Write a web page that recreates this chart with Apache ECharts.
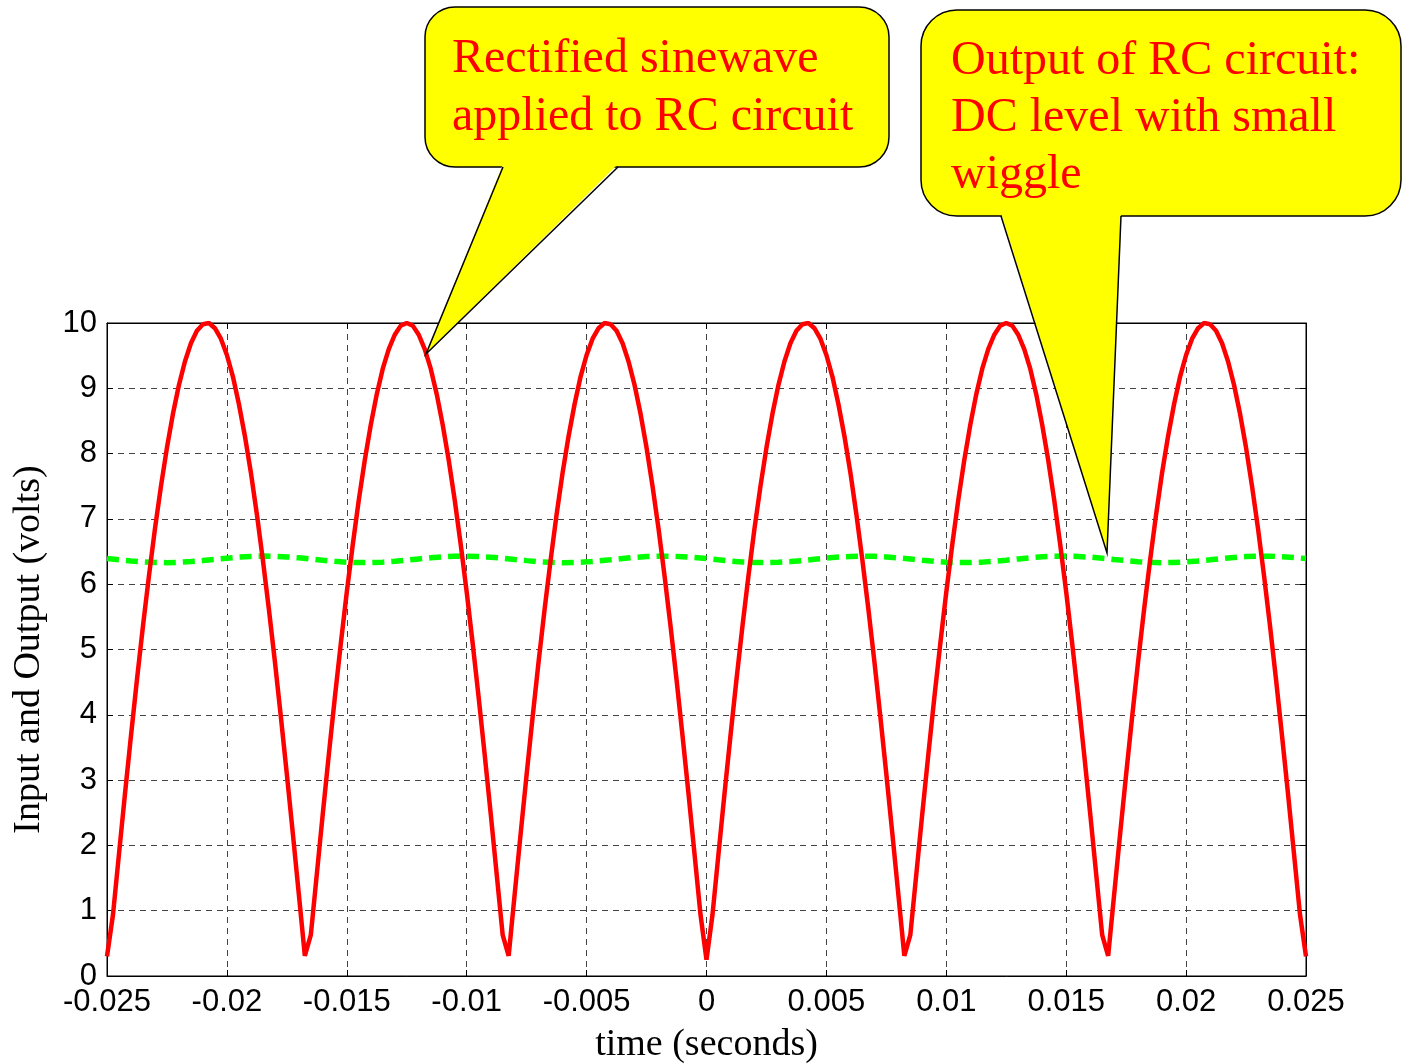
<!DOCTYPE html>
<html>
<head>
<meta charset="utf-8">
<script src="https://cdn.jsdelivr.net/npm/echarts@6/dist/echarts.min.js"></script>
<style>
html,body{margin:0;padding:0;background:#fff;}
#chart{width:1402px;height:1064px;}
</style>
</head>
<body>
<div id="chart"></div>
<script>
// time samples for the rectified input (seconds)
const tInput = [
-0.025,-0.02475,-0.0245,-0.02425,-0.024,-0.02375,-0.0235,-0.02325,-0.023,-0.02275,
-0.0225,-0.02225,-0.022,-0.02175,-0.0215,-0.02125,-0.021,-0.02075,-0.0205,-0.02025,
-0.02,-0.01975,-0.0195,-0.01925,-0.019,-0.01875,-0.0185,-0.01825,-0.018,-0.01775,
-0.0175,-0.01725,-0.017,-0.01675,-0.0165,-0.01625,-0.016,-0.01575,-0.0155,-0.01525,
-0.015,-0.01475,-0.0145,-0.01425,-0.014,-0.01375,-0.0135,-0.01325,-0.013,-0.01275,
-0.0125,-0.01225,-0.012,-0.01175,-0.0115,-0.01125,-0.011,-0.01075,-0.0105,-0.01025,
-0.01,-0.00975,-0.0095,-0.00925,-0.009,-0.00875,-0.0085,-0.00825,-0.008,-0.00775,
-0.0075,-0.00725,-0.007,-0.00675,-0.0065,-0.00625,-0.006,-0.00575,-0.0055,-0.00525,
-0.005,-0.00475,-0.0045,-0.00425,-0.004,-0.00375,-0.0035,-0.00325,-0.003,-0.00275,
-0.0025,-0.00225,-0.002,-0.00175,-0.0015,-0.00125,-0.001,-0.00075,-0.0005,-0.00025,
0,
0.00025,0.0005,0.00075,0.001,0.00125,0.0015,0.00175,0.002,0.00225,0.0025,
0.00275,0.003,0.00325,0.0035,0.00375,0.004,0.00425,0.0045,0.00475,0.005,
0.00525,0.0055,0.00575,0.006,0.00625,0.0065,0.00675,0.007,0.00725,0.0075,
0.00775,0.008,0.00825,0.0085,0.00875,0.009,0.00925,0.0095,0.00975,0.01,
0.01025,0.0105,0.01075,0.011,0.01125,0.0115,0.01175,0.012,0.01225,0.0125,
0.01275,0.013,0.01325,0.0135,0.01375,0.014,0.01425,0.0145,0.01475,0.015,
0.01525,0.0155,0.01575,0.016,0.01625,0.0165,0.01675,0.017,0.01725,0.0175,
0.01775,0.018,0.01825,0.0185,0.01875,0.019,0.01925,0.0195,0.01975,0.02,
0.02025,0.0205,0.02075,0.021,0.02125,0.0215,0.02175,0.022,0.02225,0.0225,
0.02275,0.023,0.02325,0.0235,0.02375,0.024,0.02425,0.0245,0.02475,0.025
];
// rectified sinewave input (volts)
const vInput = [
0.30,0.94,1.87,2.79,3.68,4.54,5.36,6.13,6.85,7.50,
8.09,8.61,9.05,9.41,9.69,9.88,9.98,10.00,9.92,9.76,
9.51,9.18,8.76,8.27,7.71,7.07,6.37,5.62,4.82,3.97,
3.09,2.18,1.25,0.31,0.63,1.56,2.49,3.39,4.26,5.09,
5.88,6.61,7.29,7.90,8.44,8.91,9.30,9.60,9.82,9.96,
10.00,9.96,9.82,9.60,9.30,8.91,8.44,7.90,7.29,6.61,
5.88,5.09,4.26,3.39,2.49,1.56,0.63,0.31,1.25,2.18,
3.09,3.97,4.82,5.62,6.37,7.07,7.71,8.27,8.76,9.18,
9.51,9.76,9.92,10.00,9.98,9.88,9.69,9.41,9.05,8.61,
8.09,7.50,6.85,6.13,5.36,4.54,3.68,2.79,1.87,0.94,
0.25,
0.94,1.87,2.79,3.68,4.54,5.36,6.13,6.85,7.50,8.09,
8.61,9.05,9.41,9.69,9.88,9.98,10.00,9.92,9.76,9.51,
9.18,8.76,8.27,7.71,7.07,6.37,5.62,4.82,3.97,3.09,
2.18,1.25,0.31,0.63,1.56,2.49,3.39,4.26,5.09,5.88,
6.61,7.29,7.90,8.44,8.91,9.30,9.60,9.82,9.96,10.00,
9.96,9.82,9.60,9.30,8.91,8.44,7.90,7.29,6.61,5.88,
5.09,4.26,3.39,2.49,1.56,0.63,0.31,1.25,2.18,3.09,
3.97,4.82,5.62,6.37,7.07,7.71,8.27,8.76,9.18,9.51,
9.76,9.92,10.00,9.98,9.88,9.69,9.41,9.05,8.61,8.09,
7.50,6.85,6.13,5.36,4.54,3.68,2.79,1.87,0.94,0.30
];
// time samples for the RC output (seconds)
const tOutput = [
-0.025,-0.0245,-0.024,-0.0235,-0.023,-0.0225,-0.022,-0.0215,-0.021,-0.0205,
-0.02,-0.0195,-0.019,-0.0185,-0.018,-0.0175,-0.017,-0.0165,-0.016,-0.0155,
-0.015,-0.0145,-0.014,-0.0135,-0.013,-0.0125,-0.012,-0.0115,-0.011,-0.0105,
-0.01,-0.0095,-0.009,-0.0085,-0.008,-0.0075,-0.007,-0.0065,-0.006,-0.0055,
-0.005,-0.0045,-0.004,-0.0035,-0.003,-0.0025,-0.002,-0.0015,-0.001,-0.0005,
0,
0.0005,0.001,0.0015,0.002,0.0025,0.003,0.0035,0.004,0.0045,0.005,
0.0055,0.006,0.0065,0.007,0.0075,0.008,0.0085,0.009,0.0095,0.01,
0.0105,0.011,0.0115,0.012,0.0125,0.013,0.0135,0.014,0.0145,0.015,
0.0155,0.016,0.0165,0.017,0.0175,0.018,0.0185,0.019,0.0195,0.02,
0.0205,0.021,0.0215,0.022,0.0225,0.023,0.0235,0.024,0.0245,0.025
];
// RC circuit output (volts)
const vOutput = [
6.392,6.373,6.355,6.341,6.332,6.330,6.335,6.346,6.362,6.381,
6.399,6.415,6.425,6.430,6.427,6.418,6.404,6.386,6.367,6.350,
6.337,6.331,6.331,6.338,6.351,6.368,6.387,6.405,6.419,6.428,
6.430,6.425,6.414,6.398,6.379,6.361,6.345,6.335,6.330,6.333,
6.342,6.356,6.374,6.393,6.410,6.423,6.429,6.429,6.422,6.409,
6.392,
6.373,6.355,6.341,6.332,6.330,6.335,6.346,6.362,6.381,6.399,
6.415,6.425,6.430,6.427,6.418,6.404,6.386,6.367,6.350,6.337,
6.331,6.331,6.338,6.351,6.368,6.387,6.405,6.419,6.428,6.430,
6.425,6.414,6.398,6.379,6.361,6.345,6.335,6.330,6.333,6.342,
6.356,6.374,6.393,6.410,6.423,6.429,6.429,6.422,6.409,6.392
];
const xTitle = 'time (seconds)';
const yTitle = 'Input and Output (volts)';
const note1 = ['Rectified sinewave', 'applied to RC circuit'];
const note2 = ['Output of RC circuit:', 'DC level with small', 'wiggle'];

const zip = (a, b) => a.map((v, i) => [v, b[i]]);
const SANS = '"Liberation Sans", Arial, sans-serif';
const SERIF = '"Liberation Serif", "Times New Roman", serif';

const chart = echarts.init(document.getElementById('chart'), null, {renderer: 'canvas'});

const tickStyle = {show: true, inside: true, length: 6, lineStyle: {color: '#000', width: 1}};
const gridLine = {show: true, lineStyle: {color: '#444', width: 1, type: [6, 5]}};

function callout(x, y, w, h, r, tail, lines, tx, ty, lh) {
  return [
    {type: 'rect', z: 100, shape: {x: x, y: y, width: w, height: h, r: r},
     style: {fill: '#ffff00', stroke: '#000', lineWidth: 1.5}},
    {type: 'polygon', z: 101,
     shape: {points: [[tail[0][0], tail[0][1] - 3], tail[1], [tail[2][0], tail[2][1] - 3]]},
     style: {fill: '#ffff00', stroke: null}},
    {type: 'polyline', z: 102, shape: {points: tail},
     style: {stroke: '#000', lineWidth: 1.5, fill: null}},
    {type: 'text', z: 103, x: tx, y: ty,
     style: {text: lines.join('\n'), font: '48px ' + SERIF, fill: '#ff0000',
             lineHeight: lh, verticalAlign: 'top', align: 'left'}}
  ];
}

const option = {
  animation: false,
  backgroundColor: '#ffffff',
  grid: {left: 107, right: 96, top: 323, bottom: 88, show: true,
         containLabel: false, outerBoundsMode: 'none',
         borderColor: '#000', borderWidth: 1, backgroundColor: 'transparent'},
  xAxis: [
    {type: 'value', min: -0.025, max: 0.025, interval: 0.005, position: 'bottom',
     axisLine: {show: true, onZero: false, lineStyle: {color: '#000', width: 1}},
     axisTick: tickStyle,
     axisLabel: {fontSize: 31, color: '#000', fontFamily: SANS, margin: 11},
     splitLine: gridLine,
     name: xTitle, nameLocation: 'middle', nameGap: 50,
     nameTextStyle: {fontFamily: SERIF, fontSize: 38, color: '#000'}},
    {type: 'value', min: -0.025, max: 0.025, interval: 0.005, position: 'top',
     axisLine: {show: true, onZero: false, lineStyle: {color: '#000', width: 1}},
     axisTick: tickStyle, axisLabel: {show: false}, splitLine: {show: false}}
  ],
  yAxis: [
    {type: 'value', min: 0, max: 10, interval: 1, position: 'left',
     axisLine: {show: true, onZero: false, lineStyle: {color: '#000', width: 1}},
     axisTick: tickStyle,
     axisLabel: {fontSize: 31, color: '#000', fontFamily: SANS, margin: 10},
     splitLine: gridLine,
     name: yTitle, nameLocation: 'middle', nameGap: 59,
     nameTextStyle: {fontFamily: SERIF, fontSize: 38, color: '#000'}},
    {type: 'value', min: 0, max: 10, interval: 1, position: 'right',
     axisLine: {show: true, onZero: false, lineStyle: {color: '#000', width: 1}},
     axisTick: tickStyle, axisLabel: {show: false}, splitLine: {show: false}}
  ],
  series: [
    {type: 'line', name: 'Output', xAxisIndex: 0, yAxisIndex: 0,
     data: zip(tOutput, vOutput), showSymbol: false, symbol: 'none', z: 3,
     lineStyle: {color: '#00ff00', width: 5.5, type: [12, 7]}},
    {type: 'line', name: 'Input', xAxisIndex: 0, yAxisIndex: 0,
     data: zip(tInput, vInput), showSymbol: false, symbol: 'none', z: 4,
     lineStyle: {color: '#ff0000', width: 4.5}}
  ],
  graphic: [].concat(
    callout(425, 7, 464, 160, 30, [[503, 167], [426, 354], [618, 167]], note1, 452, 30, 58),
    callout(921, 10, 480, 206, 36, [[1001, 216], [1107, 553], [1121, 216]], note2, 951, 33, 57)
  )
};
chart.setOption(option);
</script>
</body>
</html>
